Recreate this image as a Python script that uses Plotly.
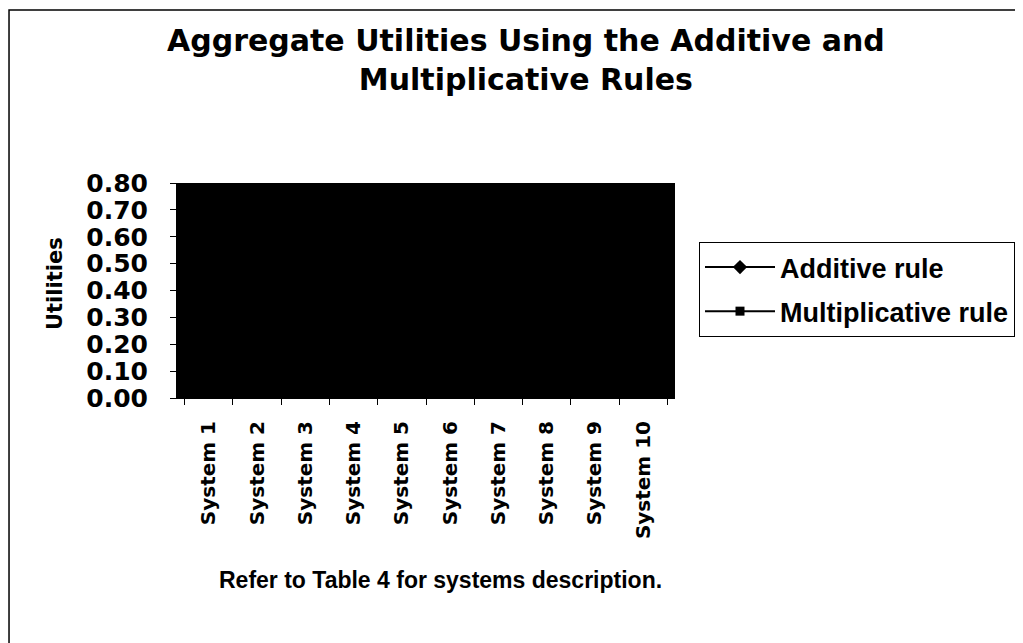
import plotly.graph_objects as go

# Data (the plot area is filled black in the reference, so the lines are not visible;
# values below are estimates kept inside the 0-0.80 axis range)
systems = ["System 1", "System 2", "System 3", "System 4", "System 5",
           "System 6", "System 7", "System 8", "System 9", "System 10"]
additive = [0.62, 0.55, 0.48, 0.66, 0.58, 0.51, 0.70, 0.60, 0.53, 0.45]
multiplicative = [0.54, 0.47, 0.40, 0.59, 0.50, 0.43, 0.63, 0.52, 0.45, 0.37]
y_ticks = [0.0, 0.1, 0.2, 0.3, 0.4, 0.5, 0.6, 0.7, 0.8]

W, H = 1023, 643
OFF = 8  # page body margin


def px(x):
    return (x - OFF) / W


def py(y):
    return 1 - (y - OFF) / H


WIDE = "DejaVu Sans"
ARIAL = "Liberation Sans"

fig = go.Figure()

fig.add_trace(go.Scatter(
    x=systems, y=additive, mode="lines+markers", name="Additive rule",
    legendgroup="a",
    line=dict(color="black", width=2),
    marker=dict(symbol="diamond", size=11, color="black"),
))
fig.add_trace(go.Scatter(
    x=systems, y=multiplicative, mode="lines+markers", name="Multiplicative rule",
    legendgroup="m",
    line=dict(color="black", width=2),
    marker=dict(symbol="square", size=9, color="black"),
))

fig.update_layout(
    width=W, height=H,
    margin=dict(l=0, r=0, t=0, b=0),
    paper_bgcolor="white",
    plot_bgcolor="black",
    showlegend=True,
    legend=dict(
        x=px(699), y=py(242), xanchor="left", yanchor="top",
        bordercolor="black", borderwidth=1, bgcolor="white",
        font=dict(family=ARIAL, size=27, color="black", weight="bold"),
        itemwidth=70, tracegroupgap=6,
    ),
    xaxis=dict(
        domain=[px(177), px(675)],
        type="category",
        tickson="boundaries",
        ticks="outside", ticklen=6, tickcolor="black",
        tickangle=-90, ticklabelstandoff=14,
        tickfont=dict(family=WIDE, size=20, color="black", weight="bold"),
        showline=True, linecolor="black", linewidth=1,
        showgrid=False, zeroline=False,
        automargin=False, fixedrange=True,
    ),
    yaxis=dict(
        domain=[py(398), py(183)],
        range=[0, 0.8],
        tickvals=y_ticks,
        tickformat=".2f",
        ticks="outside", ticklen=6, tickcolor="black",
        ticklabelstandoff=17,
        tickfont=dict(family=WIDE, size=25, color="black", weight="bold"),
        showline=True, linecolor="black", linewidth=1,
        showgrid=False, zeroline=False,
        automargin=False, fixedrange=True,
    ),
    annotations=[
        dict(text="Aggregate Utilities Using the Additive and<br>Multiplicative Rules",
             x=px(526), y=py(60), xref="paper", yref="paper",
             xanchor="center", yanchor="middle", showarrow=False,
             font=dict(family=WIDE, size=30, color="black", weight="bold")),
        dict(text="Utilities", x=px(55), y=py(284), xref="paper", yref="paper",
             xanchor="center", yanchor="middle", textangle=-90, showarrow=False,
             font=dict(family=WIDE, size=21, color="black", weight="bold")),
        dict(text="Refer to Table 4 for systems description.",
             x=px(440), y=py(580), xref="paper", yref="paper",
             xanchor="center", yanchor="middle", showarrow=False,
             font=dict(family=ARIAL, size=23, color="black", weight="bold")),
    ],
    shapes=[
        dict(type="rect", xref="paper", yref="paper",
             x0=0.001, x1=px(1040), y0=py(660), y1=py(10),
             line=dict(color="black", width=1.5)),
    ],
)

fig.write_html("out.html")
